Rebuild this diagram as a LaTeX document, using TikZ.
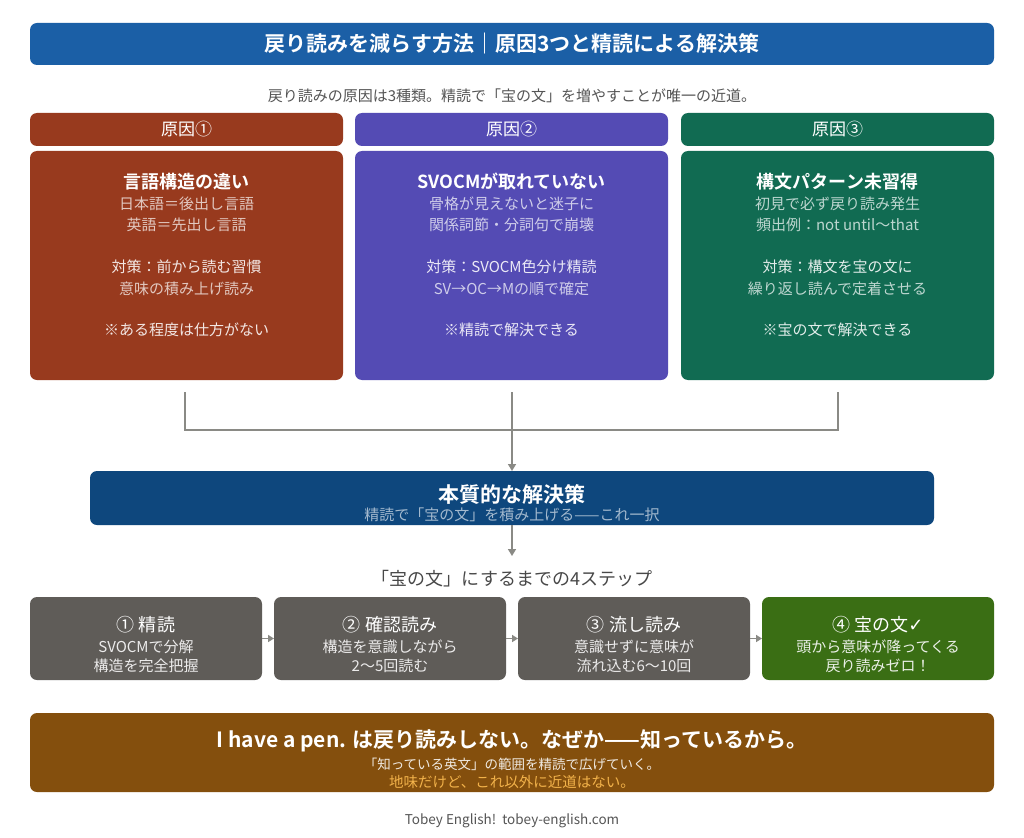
\documentclass[tikz,border=0pt]{standalone}
\usepackage{fontspec}
\setmainfont{Noto Sans CJK JP}[BoldFont={Noto Sans CJK JP Bold}]
\newfontfamily\djv{DejaVu Sans}
\usetikzlibrary{arrows.meta}
\definecolor{titleblue}{HTML}{1B5FA6}
\definecolor{rust}{HTML}{983A1E}
\definecolor{purp}{HTML}{544BB4}
\definecolor{grn}{HTML}{116B52}
\definecolor{solblue}{HTML}{0E477D}
\definecolor{stepgray}{HTML}{5F5C58}
\definecolor{stepgreen}{HTML}{3A6E14}
\definecolor{brown}{HTML}{844F0D}
\definecolor{conn}{HTML}{8A8A85}
\definecolor{subgray}{HTML}{555555}
\definecolor{gold}{HTML}{F2B24A}
\tikzset{
  box/.style={draw=none, rounded corners=7pt, inner sep=0pt, outer sep=0pt},
  txt/.style={inner sep=0pt, anchor=center},
  connline/.style={draw=conn, line width=1.6pt},
  arr/.style={connline, -{Triangle[length=7pt,width=8pt]}},
  sarr/.style={connline, -{Triangle[length=6pt,width=7pt]}},
}
\begin{document}
\begin{tikzpicture}[x=1pt,y=-1pt]
\useasboundingbox (0,0) rectangle (1024,837);
\fill[white] (0,0) rectangle (1024,837);

% title
\node[box, fill=titleblue, minimum width=964pt, minimum height=42pt] (title) at (512,44) {};
\node[txt, text=white, font=\bfseries\fontsize{21}{25}\selectfont] (titletxt) at (title.center) {戻り読みを減らす方法｜原因3つと精読による解決策};
\node[txt, text=subgray, font=\fontsize{15}{18}\selectfont] (subtitle) at (512,96) {戻り読みの原因は3種類。精読で「宝の文」を増やすことが唯一の近道。};

% cause headers
\foreach \i/\cx/\col/\lab in {1/186.5/rust/原因①, 2/511.5/purp/原因②, 3/837.5/grn/原因③}{
  \node[box, fill=\col, minimum width=313pt, minimum height=33pt] (h\i) at (\cx,129.5) {};
  \node[txt, text=white, font=\fontsize{17}{20}\selectfont] (h\i t) at (h\i.center) {\lab};
  \node[box, fill=\col, minimum width=313pt, minimum height=229pt] (c\i) at (\cx,265.5) {};
}

% cause 1
\begin{scope}[every node/.style={txt, font=\fontsize{15}{18}\selectfont, text=white!72!rust}]
\node[text=white, font=\bfseries\fontsize{18}{21}\selectfont] (c1a) at (186.5,182) {言語構造の違い};
\node (c1b) at (186.5,204) {日本語＝後出し言語};
\node (c1c) at (186.5,225) {英語＝先出し言語};
\node[text=white!88!rust] (c1d) at (186.5,267) {対策：前から読む習慣};
\node (c1e) at (186.5,289) {意味の積み上げ読み};
\node[text=white!88!rust] (c1f) at (186.5,330) {※ある程度は仕方がない};
\end{scope}
% cause 2
\begin{scope}[every node/.style={txt, font=\fontsize{15}{18}\selectfont, text=white!72!purp}]
\node[text=white, font=\bfseries\fontsize{18}{21}\selectfont] (c2a) at (511.5,182) {SVOCMが取れていない};
\node (c2b) at (511.5,204) {骨格が見えないと迷子に};
\node (c2c) at (511.5,225) {関係詞節・分詞句で崩壊};
\node[text=white!88!purp] (c2d) at (511.5,267) {対策：SVOCM色分け精読};
\node (c2e) at (511.5,289) {SV→OC→Mの順で確定};
\node[text=white!88!purp] (c2f) at (511.5,330) {※精読で解決できる};
\end{scope}
% cause 3
\begin{scope}[every node/.style={txt, font=\fontsize{15}{18}\selectfont, text=white!72!grn}]
\node[text=white, font=\bfseries\fontsize{18}{21}\selectfont] (c3a) at (837.5,182) {構文パターン未習得};
\node (c3b) at (837.5,204) {初見で必ず戻り読み発生};
\node (c3c) at (837.5,225) {頻出例：not until〜that};
\node[text=white!88!grn] (c3d) at (837.5,267) {対策：構文を宝の文に};
\node (c3e) at (837.5,289) {繰り返し読んで定着させる};
\node[text=white!88!grn] (c3f) at (837.5,330) {※宝の文で解決できる};
\end{scope}

% solution
\node[box, fill=solblue, minimum width=844pt, minimum height=54pt] (sol) at (512,498) {};
\node[txt, text=white, font=\bfseries\fontsize{21}{24}\selectfont] (solt) at (512,494) {本質的な解決策};
\node[txt, text=white!62!solblue, font=\fontsize{15}{18}\selectfont] (sols) at (512,515) {精読で「宝の文」を積み上げる——これ一択};

% connectors
\coordinate (j1) at (185,392);
\coordinate (j2) at (512,392);
\coordinate (j3) at (838,392);
\coordinate (m1) at (185,430);
\coordinate (m2) at (512,430);
\coordinate (m3) at (838,430);
\draw[connline] (j1) -- (m1) -- (m3) -- (j3);
\draw[connline] (j2) -- (m2);
\draw[arr] (m2) -- (sol.north);
\coordinate (a2) at (512,556);
\draw[arr] (sol.south) -- (a2);

% steps label
\node[txt, text=subgray!85!black, font=\fontsize{18}{21}\selectfont] (steplab) at (512,579) {「宝の文」にするまでの4ステップ};

% steps
\foreach \i/\cx/\col in {1/146/stepgray, 2/390/stepgray, 3/634/stepgray, 4/878/stepgreen}{
  \node[box, fill=\col, minimum width=232pt, minimum height=83pt] (s\i) at (\cx,638.5) {};
}
\begin{scope}[every node/.style={txt, text=white!88!stepgray, font=\fontsize{15}{18}\selectfont}]
\node[text=white, font=\fontsize{18}{21}\selectfont] (s1a) at (146,625) {① 精読};
\node (s1b) at (146,647) {SVOCMで分解};
\node (s1c) at (146,666) {構造を完全把握};
\node[text=white, font=\fontsize{18}{21}\selectfont] (s2a) at (390,625) {② 確認読み};
\node (s2b) at (390,647) {構造を意識しながら};
\node (s2c) at (390,666) {2〜5回読む};
\node[text=white, font=\fontsize{18}{21}\selectfont] (s3a) at (634,625) {③ 流し読み};
\node (s3b) at (634,647) {意識せずに意味が};
\node (s3c) at (634,666) {流れ込む6〜10回};
\node[text=white, font=\fontsize{18}{21}\selectfont] (s4a) at (878,625) {④ 宝の文{\djv\fontsize{18}{21}\selectfont ✓}};
\node[text=white!90!stepgreen] (s4b) at (878,647) {頭から意味が降ってくる};
\node[text=white!90!stepgreen] (s4c) at (878,666) {戻り読みゼロ！};
\end{scope}
\draw[sarr] (s1.east) -- (s2.west);
\draw[sarr] (s2.east) -- (s3.west);
\draw[sarr] (s3.east) -- (s4.west);

% bottom
\node[box, fill=brown, minimum width=964pt, minimum height=79pt] (bot) at (512,752.5) {};
\node[txt, text=white, font=\bfseries\fontsize{21}{24}\selectfont] (bota) at (512,741) {I have a pen. は戻り読みしない。なぜか——知っているから。};
\node[txt, text=white!88!brown, font=\fontsize{13.5}{16}\selectfont] (botb) at (512,764) {「知っている英文」の範囲を精読で広げていく。};
\node[txt, text=gold, font=\fontsize{14.5}{17}\selectfont] (botc) at (512,782) {地味だけど、これ以外に近道はない。};

% footer
\node[txt, text=subgray, font=\fontsize{13.5}{16}\selectfont] (foot) at (512,821) {Tobey English!\ \ tobey-english.com};
\end{tikzpicture}
\end{document}
